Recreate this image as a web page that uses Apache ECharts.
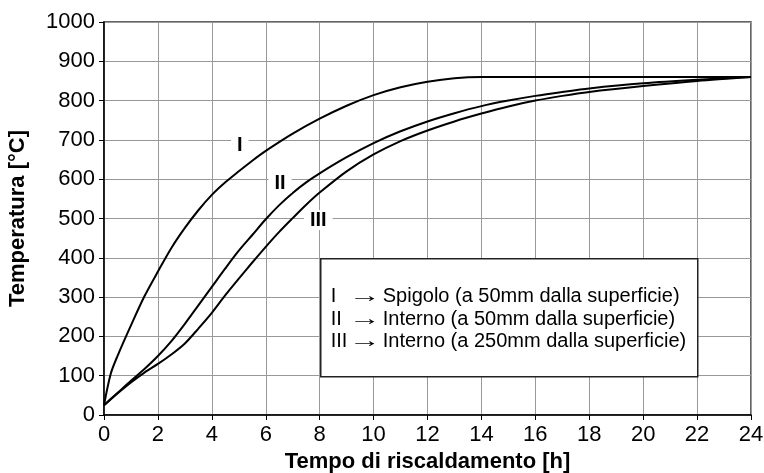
<!DOCTYPE html>
<html>
<head>
<meta charset="utf-8">
<script src="https://cdn.jsdelivr.net/npm/echarts@6/dist/echarts.min.js"></script>
<style>
  html, body { margin: 0; padding: 0; background: #fff; }
  #chart { width: 764px; height: 473px; }
</style>
</head>
<body>
<div id="chart"></div>
<script>
/* ---- 数据 ---- */
const curveI = [[0, 25], [0.25, 105], [0.5, 150], [1, 228], [1.5, 302], [2, 365], [2.5, 425], [3, 476],
  [3.5, 521], [4, 560], [4.5, 592], [5, 620], [5.5, 647], [6, 672], [7, 716], [8, 754], [9, 787],
  [10, 814], [11, 834], [12, 848], [13, 857], [14, 860], [16, 860], [18, 860], [20, 860], [22, 860], [24, 860]];
const curveII = [[0, 25], [0.5, 56], [1, 87], [1.5, 117], [2, 150], [2.5, 188], [3, 232], [3.5, 279],
  [4, 326], [4.5, 373], [5, 418], [5.5, 458], [6, 498], [6.5, 534], [7, 565], [7.5, 592], [8, 615],
  [9, 656], [10, 692], [11, 722], [12, 747], [13, 768], [14, 786], [15, 800], [16, 812], [17, 822],
  [18, 831], [20, 844], [22, 853], [24, 860]];
const curveIII = [[0, 25], [0.5, 55], [1, 83], [1.5, 108], [2, 130], [2.5, 154], [3, 182], [3.5, 220],
  [4, 260], [4.5, 305], [5, 347], [5.5, 388], [6, 428], [6.5, 466], [7, 501], [7.5, 535], [8, 566],
  [9, 620], [10, 663], [11, 697], [12, 724], [13, 747], [14, 767], [15, 785], [16, 800], [17, 812],
  [18, 822], [20, 837], [22, 850], [24, 860]];
const curveNames = ['I', 'II', 'III'];
const labelPos = [[5.04, 687], [6.53, 590], [7.95, 496]];
const legendRows = [
  ['I', 'Spigolo (a 50mm dalla superficie)'],
  ['II', 'Interno (a 50mm dalla superficie)'],
  ['III', 'Interno (a 250mm dalla superficie)']
];

const FONT = '"Liberation Sans", Arial, sans-serif';
const chart = echarts.init(document.getElementById('chart'));

function lineSeries(name, data, i) {
  return {
    name, type: 'line', data, smooth: 0.3, symbol: 'none',
    lineStyle: { color: '#000', width: 2 },
    markPoint: {
      symbol: 'rect', symbolSize: 1, itemStyle: { color: 'transparent' },
      label: {
        show: true, formatter: name, color: '#000', fontFamily: FONT, fontSize: 20, fontWeight: 'bold',
        backgroundColor: '#fff', padding: [0, 6]
      },
      data: [{ coord: labelPos[i] }]
    }
  };
}

/* 图例框 */
const legendChildren = [{
  type: 'rect', z: 100, shape: { x: 0, y: 0, width: 377, height: 118 },
  style: { fill: '#fff', stroke: '#222', lineWidth: 1.5 }
}];
legendRows.forEach(([r, txt], i) => {
  const y = 38 + i * 22.5;
  const font = '20px ' + FONT;
  legendChildren.push(
    { type: 'text', z: 101, x: 10, y, style: { text: r, font, fill: '#000', verticalAlign: 'middle' } },
    { type: 'text', z: 101, x: 28, y, scaleX: 1.6, style: { text: '\u2192', font, fill: '#000', verticalAlign: 'middle' } },
    { type: 'text', z: 101, x: 62, y, style: { text: txt, font, fill: '#000', verticalAlign: 'middle' } }
  );
});

chart.setOption({
  animation: false,
  backgroundColor: '#fff',
  grid: {
    left: 104, right: 13, top: 22, bottom: 58, outerBoundsMode: 'none', containLabel: false,
    show: true, borderColor: '#333', borderWidth: 1.5
  },
  xAxis: {
    type: 'value', min: 0, max: 24, interval: 2,
    name: 'Tempo di riscaldamento [h]', nameLocation: 'middle', nameGap: 36,
    nameTextStyle: { fontFamily: FONT, fontSize: 22, fontWeight: 'bold', color: '#000' },
    axisLine: { lineStyle: { color: '#000', width: 1.5 } },
    axisTick: { show: true, length: 5, lineStyle: { color: '#000' } },
    axisLabel: { fontFamily: FONT, fontSize: 22, color: '#000', margin: 9 },
    splitLine: { lineStyle: { color: '#999', width: 1 } }
  },
  yAxis: {
    type: 'value', min: 0, max: 1000, interval: 100,
    name: 'Temperatura [°C]', nameLocation: 'middle', nameGap: 75, nameRotate: 90,
    nameTextStyle: { fontFamily: FONT, fontSize: 22, fontWeight: 'bold', color: '#000' },
    axisLine: { show: true, lineStyle: { color: '#000', width: 1.5 } },
    axisTick: { show: true, length: 5, lineStyle: { color: '#000' } },
    axisLabel: { fontFamily: FONT, fontSize: 22, color: '#000', margin: 9, formatter: v => String(v) },
    splitLine: { lineStyle: { color: '#999', width: 1 } }
  },
  series: [
    lineSeries(curveNames[0], curveI, 0),
    lineSeries(curveNames[1], curveII, 1),
    lineSeries(curveNames[2], curveIII, 2)
  ],
  graphic: [{ type: 'group', left: 320, top: 258, z: 100, children: legendChildren }]
});
</script>
</body>
</html>
